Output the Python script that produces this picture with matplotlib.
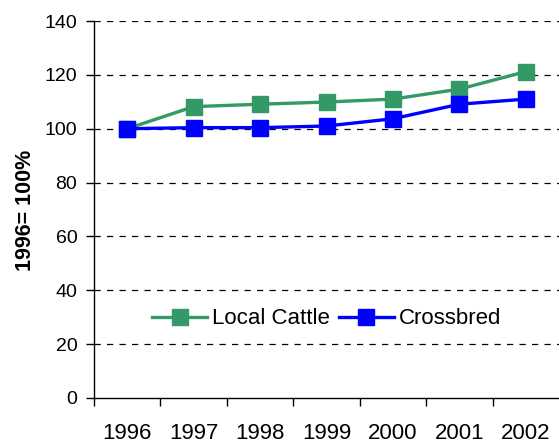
import matplotlib
matplotlib.use("Agg")
import matplotlib.pyplot as plt
import numpy as np

plt.rcParams['font.family'] = ['Liberation Sans', 'DejaVu Sans']

years = ["1996", "1997", "1998", "1999", "2000", "2001", "2002"]
local_cattle = [100, 108.2, 109.1, 109.9, 111.0, 114.7, 121.2]
crossbred = [100, 100.4, 100.4, 101.0, 103.7, 109.1, 111.0]
y_ticks = [0, 20, 40, 60, 80, 100, 120, 140]

fig = plt.figure(figsize=(5.59, 4.43), dpi=100)
ax = fig.add_axes([94/559, 1-398/443, 1-94/559, (398-21)/443])

x = np.arange(len(years))
ax.plot(x, local_cattle, color='#339966', lw=2.4, marker='s', ms=11.5,
        label='Local Cattle', zorder=3)
ax.plot(x, crossbred, color='#0000FF', lw=2.4, marker='s', ms=11.5,
        label='Crossbred', zorder=4)

ax.set_xlim(-0.5, len(years) - 0.5)
ax.set_ylim(0, 140)
ax.set_yticks(y_ticks)
ax.set_yticklabels([str(v) for v in y_ticks], fontsize=14)
ax.set_xticks(x)
ax.set_xticklabels(years, fontsize=16)
ax.set_xticks(np.arange(-0.5, len(years) - 0.5, 1), minor=True)
ax.tick_params(axis='x', which='major', length=0, pad=18)
ax.tick_params(axis='x', which='minor', length=6, width=1, direction='out')
ax.tick_params(axis='y', length=6, width=1, direction='out', pad=6)

for v in y_ticks[1:]:
    ax.axhline(v, color='black', lw=0.9, ls=(0, (5, 5)), zorder=1)

for s in ['top', 'right']:
    ax.spines[s].set_visible(False)
ax.spines['left'].set_linewidth(1)
ax.spines['bottom'].set_linewidth(1)

ax.set_ylabel('1996= 100%', fontsize=15.5, fontweight='bold')
ax.yaxis.set_label_coords(-0.124, 0.497)

ax.legend(loc='center', bbox_to_anchor=(0.5, 0.21), ncol=2, frameon=False,
          fontsize=16, handlelength=2.5, columnspacing=0.4, handletextpad=0.2,
          borderpad=0.1)

fig.savefig('out.png', dpi=100)
